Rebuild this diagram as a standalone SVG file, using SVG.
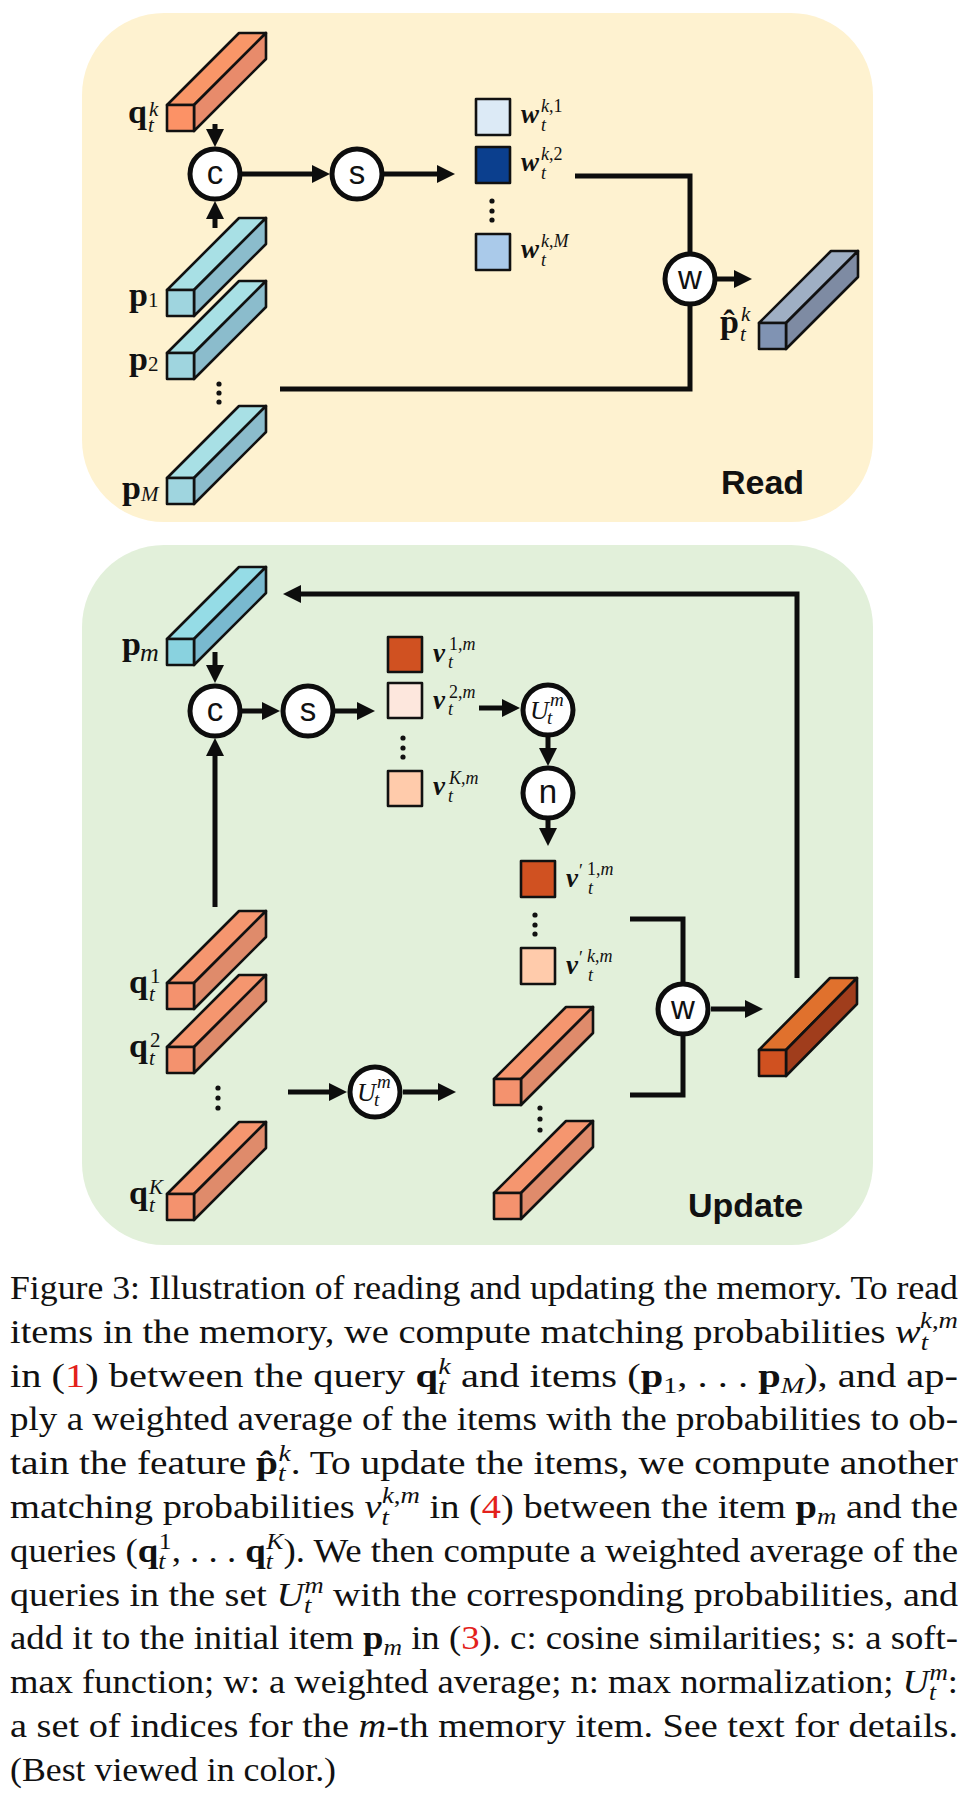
<svg xmlns="http://www.w3.org/2000/svg" width="968" height="1800" viewBox="0 0 968 1800">
<style>
.conn{stroke:#0d0d0d;stroke-width:5;fill:none}
.arr{marker-end:url(#ah)}
.edge{stroke:#111;stroke-width:2.6;stroke-linejoin:round}
.op circle{fill:#fff;stroke:#0d0d0d;stroke-width:5}
.opt{font-family:"Liberation Sans",Arial,sans-serif;font-size:33px;text-anchor:middle;fill:#111}
.lb{font-family:"Liberation Serif","Times New Roman",serif;font-weight:bold;font-size:34px;fill:#111}
.sb{font-family:"Liberation Serif","Times New Roman",serif;font-weight:normal;font-style:italic;font-size:21px;fill:#111}
.wl{font-family:"Liberation Serif","Times New Roman",serif;font-weight:bold;font-style:italic;font-size:27px;fill:#111}
.ws{font-family:"Liberation Serif","Times New Roman",serif;font-weight:normal;font-style:italic;font-size:18px;fill:#111}
.ul{font-family:"Liberation Serif","Times New Roman",serif;font-style:italic;font-size:26px;fill:#111}
.us{font-family:"Liberation Serif","Times New Roman",serif;font-style:italic;font-size:19px;fill:#111}
.title{font-family:"Liberation Sans",Arial,sans-serif;font-weight:bold;font-size:34px;fill:#111}
.cap{font-family:"Liberation Serif","Times New Roman",serif;font-size:33px;fill:#111}
.s{font-size:23px}
.i{font-style:italic}
.b{font-weight:bold}
.up{font-style:normal}
.red{fill:#e3211b}
.dot{fill:#111}
</style>
<defs>
<marker id="ah" markerUnits="userSpaceOnUse" markerWidth="20" markerHeight="20" viewBox="0 0 20 20" refX="8" refY="9" orient="auto">
<path d="M0,0 L18,9 L0,18 z" fill="#0d0d0d"/>
</marker>
</defs>

<!-- panels -->
<rect id="read-panel" x="82" y="13" width="791" height="509" rx="82" fill="#fef2d0"/>
<rect id="update-panel" x="82" y="545" width="791" height="700" rx="82" fill="#e2f0da"/>
<text class="title" x="721" y="494">Read</text>
<text class="title" x="688" y="1217">Update</text>

<!-- connectors -->
<g id="connectors">
<path class="conn arr" d="M215,124 V137"/>
<path class="conn arr" d="M215,228 V211"/>
<path class="conn arr" d="M242,174 H320"/>
<path class="conn arr" d="M384,174 H445"/>
<path class="conn" d="M575,176 H690 V252"/>
<path class="conn" d="M280,389 H690 V306"/>
<path class="conn arr" d="M717,279 H742"/>

<path class="conn arr" d="M797,978 V594 H293"/>
<path class="conn arr" d="M215,652 V673"/>
<path class="conn arr" d="M215,907 V748"/>
<path class="conn arr" d="M242,711 H270"/>
<path class="conn arr" d="M335,711 H365"/>
<path class="conn arr" d="M479,708 H510"/>
<path class="conn arr" d="M548,737 V756"/>
<path class="conn arr" d="M548,820 V836"/>
<path class="conn" d="M630,919 H683 V982"/>
<path class="conn" d="M630,1095 H683 V1036"/>
<path class="conn arr" d="M711,1009 H753"/>
<path class="conn arr" d="M288,1092 H337"/>
<path class="conn arr" d="M403,1092 H446"/>
</g>

<!-- READ nodes -->
<g id="q-read">
<g transform="translate(167,105)">
<polygon class="edge" fill="#f99668" points="0,0 72,-72 99,-72 27,0"/>
<polygon class="edge" fill="#e88b6b" points="27,0 99,-72 99,-46 27,26"/>
<rect class="edge" fill="#fc9266" x="0" y="0" width="27" height="26"/>
</g>
<text class="lb" x="128" y="123">q<tspan class="sb" x="148" y="132">t</tspan><tspan class="sb" x="149" y="116">k</tspan></text>
</g>
<g id="p1-read">
<g transform="translate(167,290)">
<polygon class="edge" fill="#a8e0e5" points="0,0 72,-72 99,-72 27,0"/>
<polygon class="edge" fill="#8bbccc" points="27,0 99,-72 99,-46 27,26"/>
<rect class="edge" fill="#9fd5df" x="0" y="0" width="27" height="26"/>
</g>
<text class="lb" x="129" y="306">p<tspan class="sb up" x="148" y="307">1</tspan></text>
</g>
<g id="p2-read">
<g transform="translate(167,353)">
<polygon class="edge" fill="#a8e0e5" points="0,0 72,-72 99,-72 27,0"/>
<polygon class="edge" fill="#8bbccc" points="27,0 99,-72 99,-46 27,26"/>
<rect class="edge" fill="#9fd5df" x="0" y="0" width="27" height="26"/>
</g>
<text class="lb" x="129" y="370">p<tspan class="sb up" x="148" y="371">2</tspan></text>
</g>
<g id="dots-p">
<circle class="dot" cx="219" cy="384" r="2.6"/><circle class="dot" cx="219" cy="393" r="2.6"/><circle class="dot" cx="219" cy="402" r="2.6"/>
</g>
<g id="pM-read">
<g transform="translate(167,478)">
<polygon class="edge" fill="#a8e0e5" points="0,0 72,-72 99,-72 27,0"/>
<polygon class="edge" fill="#8bbccc" points="27,0 99,-72 99,-46 27,26"/>
<rect class="edge" fill="#9fd5df" x="0" y="0" width="27" height="26"/>
</g>
<text class="lb" x="122" y="499">p<tspan class="sb" x="141" y="501">M</tspan></text>
</g>

<g id="c-read" class="op"><circle cx="215" cy="174" r="25"/><text class="opt" x="215" y="184">c</text></g>
<g id="s-read" class="op"><circle cx="357" cy="174" r="25"/><text class="opt" x="357" y="184">s</text></g>

<g id="w1">
<rect class="edge" fill="#dceaf6" x="476" y="99" width="34" height="36"/>
<text class="wl" x="521" y="123">w<tspan class="ws" x="541" y="131">t</tspan><tspan class="ws" x="541" y="112">k<tspan class="up">,1</tspan></tspan></text>
</g>
<g id="w2">
<rect class="edge" fill="#0b3f8e" x="476" y="147" width="34" height="36"/>
<text class="wl" x="521" y="171">w<tspan class="ws" x="541" y="179">t</tspan><tspan class="ws" x="541" y="160">k<tspan class="up">,2</tspan></tspan></text>
</g>
<g id="dots-w">
<circle class="dot" cx="492" cy="201" r="2.6"/><circle class="dot" cx="492" cy="211" r="2.6"/><circle class="dot" cx="492" cy="220" r="2.6"/>
</g>
<g id="wM">
<rect class="edge" fill="#aacaea" x="476" y="234" width="34" height="36"/>
<text class="wl" x="521" y="258">w<tspan class="ws" x="541" y="266">t</tspan><tspan class="ws" x="541" y="247">k<tspan class="up">,</tspan>M</tspan></text>
</g>

<g id="w-read" class="op"><circle cx="690" cy="279" r="25"/><text class="opt" x="690" y="289">w</text></g>

<g id="phat">
<g transform="translate(759,323)">
<polygon class="edge" fill="#9fafc4" points="0,0 72,-72 99,-72 27,0"/>
<polygon class="edge" fill="#7e8ba3" points="27,0 99,-72 99,-46 27,26"/>
<rect class="edge" fill="#8093b3" x="0" y="0" width="27" height="26"/>
</g>
<text class="lb" x="720" y="333">p̂<tspan class="sb" x="740" y="341">t</tspan><tspan class="sb" x="741" y="321">k</tspan></text>
</g>

<!-- UPDATE nodes -->
<g id="pm-update">
<g transform="translate(167,639)">
<polygon class="edge" fill="#95dce6" points="0,0 72,-72 99,-72 27,0"/>
<polygon class="edge" fill="#79b9cf" points="27,0 99,-72 99,-46 27,26"/>
<rect class="edge" fill="#89d2df" x="0" y="0" width="27" height="26"/>
</g>
<text class="lb" x="122" y="655">p<tspan class="sb" style="font-size:26px" x="140" y="661">m</tspan></text>
</g>

<g id="c-update" class="op"><circle cx="215" cy="711" r="25"/><text class="opt" x="215" y="721">c</text></g>
<g id="s-update" class="op"><circle cx="308" cy="711" r="25"/><text class="opt" x="308" y="721">s</text></g>

<g id="v1">
<rect class="edge" fill="#d05121" x="388" y="637" width="34" height="35"/>
<text class="wl" x="433" y="662">v<tspan class="ws" x="448" y="668">t</tspan><tspan class="ws" x="449" y="650"><tspan class="up">1,</tspan>m</tspan></text>
</g>
<g id="v2">
<rect class="edge" fill="#fde7dd" x="388" y="683" width="34" height="35"/>
<text class="wl" x="433" y="709">v<tspan class="ws" x="448" y="715">t</tspan><tspan class="ws" x="449" y="698"><tspan class="up">2,</tspan>m</tspan></text>
</g>
<g id="dots-v">
<circle class="dot" cx="403" cy="738" r="2.6"/><circle class="dot" cx="403" cy="748" r="2.6"/><circle class="dot" cx="403" cy="757" r="2.6"/>
</g>
<g id="vK">
<rect class="edge" fill="#ffcbab" x="388" y="771" width="34" height="35"/>
<text class="wl" x="433" y="795">v<tspan class="ws" x="448" y="802">t</tspan><tspan class="ws" x="449" y="784">K<tspan class="up">,</tspan>m</tspan></text>
</g>

<g id="U-top" class="op"><circle cx="548" cy="710" r="25"/>
<text class="ul" x="530" y="719">U<tspan class="us" x="547" y="724">t</tspan><tspan class="us" x="550" y="706">m</tspan></text></g>
<g id="n-update" class="op"><circle cx="548" cy="793" r="25"/><text class="opt" x="548" y="803">n</text></g>

<g id="vp1">
<rect class="edge" fill="#d05121" x="521" y="861" width="34" height="36"/>
<text class="wl" x="566" y="887">v<tspan class="ws up" x="579" y="877">′</tspan><tspan class="ws" x="588" y="894">t</tspan><tspan class="ws" x="587" y="875"><tspan class="up">1,</tspan>m</tspan></text>
</g>
<g id="dots-vp">
<circle class="dot" cx="535" cy="915" r="2.6"/><circle class="dot" cx="535" cy="925" r="2.6"/><circle class="dot" cx="535" cy="934" r="2.6"/>
</g>
<g id="vpk">
<rect class="edge" fill="#ffcbab" x="521" y="948" width="34" height="36"/>
<text class="wl" x="566" y="974">v<tspan class="ws up" x="579" y="964">′</tspan><tspan class="ws" x="588" y="981">t</tspan><tspan class="ws" x="587" y="962">k<tspan class="up">,</tspan>m</tspan></text>
</g>

<g id="w-update" class="op"><circle cx="683" cy="1009" r="25"/><text class="opt" x="683" y="1019">w</text></g>

<g id="out-update">
<g transform="translate(759,1050)">
<polygon class="edge" fill="#e0712d" points="0,0 71,-72 98,-72 27,0"/>
<polygon class="edge" fill="#a03d1c" points="27,0 98,-72 98,-46 27,26"/>
<rect class="edge" fill="#d05120" x="0" y="0" width="27" height="26"/>
</g>
</g>

<g id="q1-update">
<g transform="translate(167,983)">
<polygon class="edge" fill="#f5966f" points="0,0 72,-72 99,-72 27,0"/>
<polygon class="edge" fill="#df8b6b" points="27,0 99,-72 99,-46 27,26"/>
<rect class="edge" fill="#f4926e" x="0" y="0" width="27" height="26"/>
</g>
<text class="lb" x="129" y="993">q<tspan class="sb" x="149" y="1001">t</tspan><tspan class="sb up" x="150" y="983">1</tspan></text>
</g>
<g id="q2-update">
<g transform="translate(167,1047)">
<polygon class="edge" fill="#f5966f" points="0,0 72,-72 99,-72 27,0"/>
<polygon class="edge" fill="#df8b6b" points="27,0 99,-72 99,-46 27,26"/>
<rect class="edge" fill="#f4926e" x="0" y="0" width="27" height="26"/>
</g>
<text class="lb" x="129" y="1057">q<tspan class="sb" x="149" y="1065">t</tspan><tspan class="sb up" x="150" y="1047">2</tspan></text>
</g>
<g id="dots-q">
<circle class="dot" cx="218" cy="1088" r="2.6"/><circle class="dot" cx="218" cy="1098" r="2.6"/><circle class="dot" cx="218" cy="1108" r="2.6"/>
</g>
<g id="qK-update">
<g transform="translate(167,1194)">
<polygon class="edge" fill="#f5966f" points="0,0 72,-72 99,-72 27,0"/>
<polygon class="edge" fill="#df8b6b" points="27,0 99,-72 99,-46 27,26"/>
<rect class="edge" fill="#f4926e" x="0" y="0" width="27" height="26"/>
</g>
<text class="lb" x="129" y="1204">q<tspan class="sb" x="149" y="1212">t</tspan><tspan class="sb" x="149" y="1194">K</tspan></text>
</g>

<g id="U-bottom" class="op"><circle cx="375" cy="1092" r="25"/>
<text class="ul" x="357" y="1101">U<tspan class="us" x="374" y="1106">t</tspan><tspan class="us" x="377" y="1088">m</tspan></text></g>

<g id="rq1-update">
<g transform="translate(494,1079)">
<polygon class="edge" fill="#f5966f" points="0,0 72,-72 99,-72 27,0"/>
<polygon class="edge" fill="#df8b6b" points="27,0 99,-72 99,-46 27,26"/>
<rect class="edge" fill="#f4926e" x="0" y="0" width="27" height="26"/>
</g>
</g>
<g id="dots-rq">
<circle class="dot" cx="540" cy="1108" r="2.6"/><circle class="dot" cx="540" cy="1119" r="2.6"/><circle class="dot" cx="540" cy="1130" r="2.6"/>
</g>
<g id="rq2-update">
<g transform="translate(494,1193)">
<polygon class="edge" fill="#f5966f" points="0,0 72,-72 99,-72 27,0"/>
<polygon class="edge" fill="#df8b6b" points="27,0 99,-72 99,-46 27,26"/>
<rect class="edge" fill="#f4926e" x="0" y="0" width="27" height="26"/>
</g>
</g>

<!-- caption -->
<g id="caption">
<text class="cap" x="10" y="1299" textLength="948" lengthAdjust="spacingAndGlyphs">Figure 3: Illustration of reading and updating the memory. To read</text>
<text class="cap" x="10" y="1343" textLength="948" lengthAdjust="spacingAndGlyphs">items in the memory, we compute matching probabilities <tspan class="i">w</tspan><tspan class="s i" dy="7">t</tspan><tspan class="s i" dx="-7" dy="-22">k</tspan><tspan class="s">,</tspan><tspan class="s i">m</tspan></text>
<text class="cap" x="10" y="1387" textLength="948" lengthAdjust="spacingAndGlyphs">in (<tspan class="red">1</tspan>) between the query <tspan class="b">q</tspan><tspan class="s i" dy="7">t</tspan><tspan class="s i" dx="-6" dy="-20">k</tspan><tspan dy="13"> and items (</tspan><tspan class="b">p</tspan><tspan class="s" dy="6">1</tspan><tspan dy="-6">, . . . </tspan><tspan class="b">p</tspan><tspan class="s i" dy="6">M</tspan><tspan dy="-6">), and ap-</tspan></text>
<text class="cap" x="10" y="1430" textLength="948" lengthAdjust="spacingAndGlyphs">ply a weighted average of the items with the probabilities to ob-</text>
<text class="cap" x="10" y="1474" textLength="948" lengthAdjust="spacingAndGlyphs">tain the feature <tspan class="b">p̂</tspan><tspan class="s i" dy="7">t</tspan><tspan class="s i" dx="-6" dy="-20">k</tspan><tspan dy="13">. To update the items, we compute another</tspan></text>
<text class="cap" x="10" y="1518" textLength="948" lengthAdjust="spacingAndGlyphs">matching probabilities <tspan class="i">v</tspan><tspan class="s i" dy="7">t</tspan><tspan class="s i" dx="-6" dy="-22">k</tspan><tspan class="s">,</tspan><tspan class="s i">m</tspan><tspan dy="15"> in (</tspan><tspan class="red">4</tspan>) between the item <tspan class="b">p</tspan><tspan class="s i" dy="6">m</tspan><tspan dy="-6"> and the</tspan></text>
<text class="cap" x="10" y="1562" textLength="948" lengthAdjust="spacingAndGlyphs">queries (<tspan class="b">q</tspan><tspan class="s i" dy="7">t</tspan><tspan class="s" dx="-6" dy="-20">1</tspan><tspan dy="13">, . . . </tspan><tspan class="b">q</tspan><tspan class="s i" dy="7">t</tspan><tspan class="s i" dx="-6" dy="-20">K</tspan><tspan dy="13">). We then compute a weighted average of the</tspan></text>
<text class="cap" x="10" y="1606" textLength="948" lengthAdjust="spacingAndGlyphs">queries in the set <tspan class="i">U</tspan><tspan class="s i" dy="7">t</tspan><tspan class="s i" dx="-6" dy="-20">m</tspan><tspan dy="13"> with the corresponding probabilities, and</tspan></text>
<text class="cap" x="10" y="1649" textLength="948" lengthAdjust="spacingAndGlyphs">add it to the initial item <tspan class="b">p</tspan><tspan class="s i" dy="6">m</tspan><tspan dy="-6"> in (</tspan><tspan class="red">3</tspan>). c: cosine similarities; s: a soft-</text>
<text class="cap" x="10" y="1693" textLength="948" lengthAdjust="spacingAndGlyphs">max function; w: a weighted average; n: max normalization; <tspan class="i">U</tspan><tspan class="s i" dy="7">t</tspan><tspan class="s i" dx="-6" dy="-20">m</tspan><tspan dy="13">:</tspan></text>
<text class="cap" x="10" y="1737" textLength="948" lengthAdjust="spacingAndGlyphs">a set of indices for the <tspan class="i">m</tspan>-th memory item. See text for details.</text>
<text class="cap" x="10" y="1781" textLength="326" lengthAdjust="spacingAndGlyphs">(Best viewed in color.)</text>
</g>
</svg>
